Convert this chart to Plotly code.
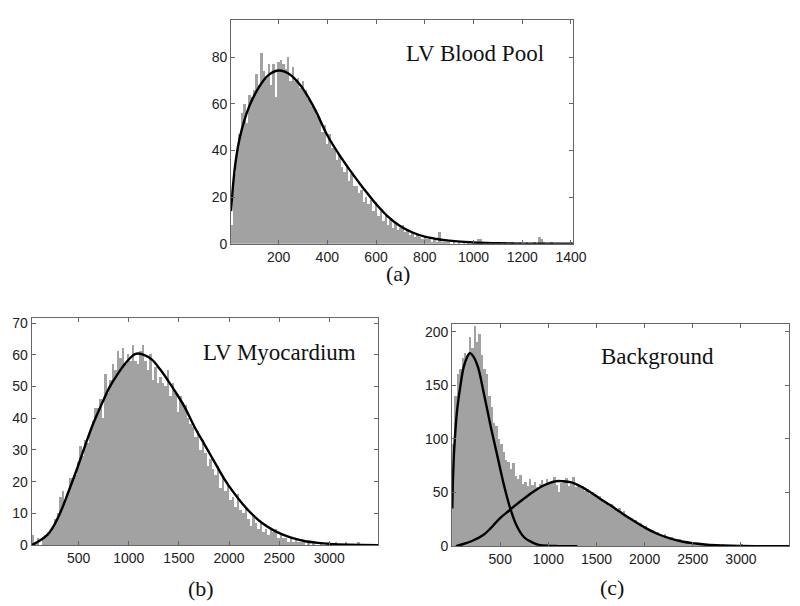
import numpy as np
import plotly.graph_objects as go

# ---------------- data ----------------
# (a) LV Blood Pool: histogram counts, bins of width 10 starting at 5
a_bin_start = 5
a_bin_width = 10
a_counts = [8, 30, 40, 47, 56, 60, 52, 64, 63, 66,
            73, 68, 82, 74, 71, 77, 68, 77, 63, 78,
            79, 77, 75, 80, 70, 76, 70, 71, 67, 70,
            66, 62, 62, 59, 58, 55, 54, 48, 51, 43,
            47, 41, 41, 36, 38, 33, 31, 34, 27, 30,
            25, 25, 22, 23, 18, 20, 17, 19, 14, 18,
            12, 14, 10, 12, 8, 11, 7, 9, 6, 7,
            8, 5, 6, 4, 5, 3, 4, 3, 2, 3,
            2, 2, 1, 2, 1, 5, 1, 1, 1, 1,
            0, 1, 0, 1, 0, 1, 0, 1, 0, 1,
            0, 2, 2, 1, 0, 1, 0, 1, 0, 1,
            0, 0, 1, 0, 0, 1, 0, 0, 1, 0,
            0, 1, 0, 0, 1, 0, 3, 2, 1, 0,
            0, 1, 0, 0, 0, 0, 0, 0, 0, 1]
a_fit_x = [5, 15, 25, 40, 60, 80, 100, 125, 150, 175, 200, 225, 250, 275, 300,
           350, 400, 450, 500, 550, 600, 650, 700, 750, 800, 850, 900, 1000,
           1100, 1200, 1300, 1408]
a_fit_y = [14, 27, 36, 45, 53, 59, 63.5, 68, 71.5, 73.5, 74.3, 73.8, 72.3, 69.8,
           66.5, 57.5, 46.5, 38, 30.5, 23.5, 17, 11.5, 7.5, 4.8, 3, 2, 1.3, 0.5,
           0.2, 0.05, 0, 0]

# (b) LV Myocardium: histogram counts, bins of width 25 starting at 25
b_bin_start = 25
b_bin_width = 25
b_counts = [3, 1, 2, 0, 2, 3, 4, 4, 6, 8,
            10, 15, 17, 14, 17, 21, 21, 22, 26, 31,
            28, 33, 32, 36, 39, 43, 43, 46, 40, 54,
            48, 52, 57, 55, 61, 59, 62, 57, 60, 58,
            63, 58, 57, 61, 63, 58, 55, 60, 52, 56,
            51, 53, 51, 50, 55, 47, 51, 48, 42, 47,
            45, 44, 40, 38, 37, 34, 36, 30, 33, 29,
            25, 27, 24, 22, 25, 18, 21, 17, 19, 14,
            15, 12, 16, 11, 10, 12, 8, 6, 9, 7,
            5, 7, 4, 5, 3, 5, 4, 5, 2, 3,
            2, 2, 1, 2, 1, 2, 1, 1, 1, 0,
            1, 0, 1, 0, 0, 1, 0, 0, 1, 0,
            0, 1, 0, 0, 0, 1, 0, 0, 0, 0,
            1, 0, 0, 0, 0, 0, 0, 0, 0]
b_fit_x = [30, 100, 190, 250, 320, 400, 483, 560, 646, 730, 808, 890, 971, 1068,
           1150, 1231, 1310, 1393, 1475, 1556, 1653, 1750, 1850, 1950, 2043, 2140,
           2238, 2330, 2432, 2530, 2627, 2750, 2887, 3000, 3200, 3490]
b_fit_y = [0, 1.2, 3.3, 6, 10.5, 17, 24, 31, 38.4, 44.5, 49.8, 54, 57.5, 60.3,
           60, 58.5, 55.5, 51.8, 47.8, 43.6, 37.4, 32, 26.5, 21, 16.7, 12.8,
           9.5, 7, 4.9, 3.4, 2.3, 1.3, 0.7, 0.4, 0.15, 0]

# (c) Background: histogram counts, bins of width 25 starting at 0
c_bin_start = 0
c_bin_width = 25
c_counts = [95, 140, 160, 165, 175, 180, 178, 195, 185, 205,
            190, 198, 178, 165, 160, 140, 130, 115, 112, 100,
            95, 88, 80, 78, 72, 77, 65, 62, 66, 58,
            60, 56, 62, 57, 60, 55, 58, 61, 56, 62,
            58, 60, 64, 57, 50, 59, 61, 63, 56, 58,
            64, 55, 57, 54, 56, 51, 53, 48, 50, 47,
            45, 47, 42, 40, 41, 37, 39, 34, 33, 35,
            30, 33, 28, 25, 26, 22, 24, 20, 21, 17,
            19, 15, 14, 15, 12, 13, 10, 9, 11, 8,
            7, 8, 6, 5, 6, 4, 5, 3, 4, 3,
            3, 2, 2, 2, 1, 2, 1, 1, 1, 1,
            0, 0, 1, 0, 0, 0, 0, 0, 0, 0,
            1, 0, 0, 0, 0, 0, 0, 0, 0, 0,
            0, 0, 0, 0, 0, 0, 0, 0, 0, 0]
c_fit1_x = [2, 12, 25, 50, 87, 120, 155, 185, 220, 269, 324, 405, 473, 541,
            608, 676, 750, 832, 900, 1000, 1100, 1300]
c_fit1_y = [35, 70, 95, 125, 150, 167, 176, 180, 177, 167, 145, 110, 83, 56,
            34, 18, 8, 3.5, 1.2, 0.2, 0, 0]
c_fit2_x = [40, 100, 200, 324, 400, 493, 590, 663, 750, 832, 950, 1069, 1150,
            1238, 1340, 1441, 1540, 1644, 1750, 1848, 2017, 2130, 2254, 2400,
            2525, 2650, 2800, 3000, 3200, 3500]
c_fit2_y = [0, 1.5, 4.5, 10.4, 16.5, 25.7, 33, 38.5, 44.5, 50, 56.5, 60.4, 60.5,
            59.5, 55.5, 50, 44, 38, 31.5, 25.7, 16.5, 11.5, 7.4, 4, 2.5, 1.3,
            0.6, 0.1, 0, 0]

titles = ["LV Blood Pool", "LV Myocardium", "Background"]
captions = ["(a)", "(b)", "(c)"]

# ---------------- figure ----------------
BAR = "#a2a2a2"
FRAME = "#666666"

def centers(start, width, counts):
    return start + width * (np.arange(len(counts)) + 0.5)

fig = go.Figure()

panels = [
    ("x", "y", a_bin_start, a_bin_width, a_counts, [(a_fit_x, a_fit_y)]),
    ("x2", "y2", b_bin_start, b_bin_width, b_counts, [(b_fit_x, b_fit_y)]),
    ("x3", "y3", c_bin_start, c_bin_width, c_counts,
     [(c_fit1_x, c_fit1_y), (c_fit2_x, c_fit2_y)]),
]
for xa, ya, st, w, cnt, fits in panels:
    fig.add_trace(go.Bar(x=centers(st, w, cnt), y=cnt, width=w,
                         marker=dict(color=BAR, line=dict(width=0)),
                         xaxis=xa, yaxis=ya, showlegend=False, hoverinfo="skip"))
    for fx, fy in fits:
        fig.add_trace(go.Scatter(x=fx, y=fy, mode="lines",
                                 line=dict(color="black", width=2.4, shape="spline", smoothing=1.0),
                                 xaxis=xa, yaxis=ya, showlegend=False, hoverinfo="skip"))

tickfont = dict(family="Liberation Sans, Arial, sans-serif", size=14, color="#222222")
axcommon = dict(showgrid=False, zeroline=False, showline=True, linecolor=FRAME,
                linewidth=1, mirror="ticks", ticks="inside", ticklen=4,
                tickcolor=FRAME, tickfont=tickfont)

fig.update_layout(
    width=800, height=606, margin=dict(l=0, r=0, t=0, b=0),
    paper_bgcolor="white", plot_bgcolor="white", bargap=0,
    xaxis=dict(domain=[0.28375, 0.71875], range=[5, 1408],
               tickvals=[200, 400, 600, 800, 1000, 1200, 1400], anchor="y", **axcommon),
    yaxis=dict(domain=[0.6089, 0.9851], range=[0, 96],
               tickvals=[0, 20, 40, 60, 80], anchor="x", **axcommon),
    xaxis2=dict(domain=[0.03, 0.47125], range=[30, 3490],
                tickvals=[500, 1000, 1500, 2000, 2500, 3000], anchor="y2", **axcommon),
    yaxis2=dict(domain=[0.1023, 0.4835], range=[0, 71.5],
                tickvals=[0, 10, 20, 30, 40, 50, 60, 70], anchor="x2", **axcommon),
    xaxis3=dict(domain=[0.565, 0.99375], range=[0, 3500],
                tickvals=[500, 1000, 1500, 2000, 2500, 3000], anchor="y3", **axcommon),
    yaxis3=dict(domain=[0.1007, 0.4736], range=[0, 207],
                tickvals=[0, 50, 100, 150, 200], anchor="x3", **axcommon),
)

serif = "Liberation Serif, Times New Roman, serif"

def label(text, px, py, size):
    fig.add_annotation(x=px / 800, y=1 - py / 606, xref="paper", yref="paper",
                       xanchor="center", yanchor="middle", text=text, showarrow=False,
                       font=dict(family=serif, size=size, color="#111111"))

# panel titles (inside plots)
label(titles[0], 475, 43, 23)
label(titles[1], 276, 348, 23)
label(titles[2], 661, 352, 23)
# captions
label(captions[0], 397, 267, 22)
label(captions[1], 196, 588, 22)
label(captions[2], 615, 587, 22)

fig.write_html("out.html")
